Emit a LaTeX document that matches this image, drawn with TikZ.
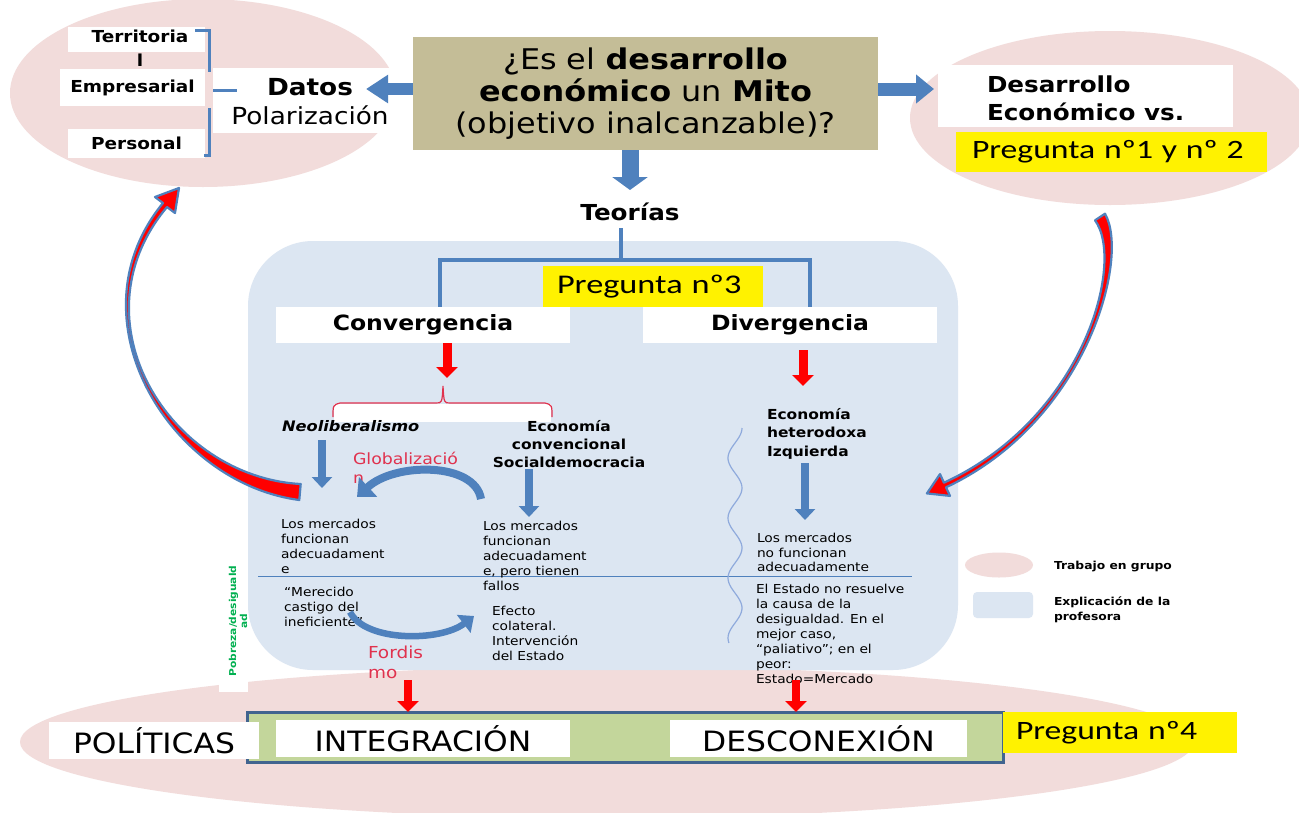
\documentclass[tikz,border=0pt]{standalone}
\usepackage{fontspec}
\setmainfont[FakeStretch=1.12]{DejaVu Sans}
\newfontfamily\pregfont[FakeStretch=1.27]{Carlito}
\usetikzlibrary{arrows.meta}
\definecolor{pinkbg}{HTML}{F2DCDB}
\definecolor{bluebg}{HTML}{DCE6F2}
\definecolor{tanbox}{HTML}{C4BD97}
\definecolor{steel}{HTML}{4F81BD}
\definecolor{bardraw}{HTML}{41648F}
\definecolor{barfill}{HTML}{C3D69B}
\definecolor{redtxt}{HTML}{E0324E}
\definecolor{greentxt}{HTML}{00B050}
\definecolor{wavec}{HTML}{8FAADC}
\newcommand{\setfs}[2]{\fontsize{#1}{#2}\selectfont}
\begin{document}
\begin{tikzpicture}[x=1pt,y=-1pt,
  every node/.style={inner sep=0pt,outer sep=0pt},
  wbox/.style={fill=white},
  ybox/.style={fill=yellow, align=left, font=\pregfont\setfs{26.5}{30}},
  smalltxt/.style={anchor=north west, align=left, font=\setfs{12.3}{15}},
  treeline/.style={steel, line width=3.5pt},
  blueflow/.style={steel, line width=8pt, -{Triangle[length=11pt,width=20pt]}},
  redflow/.style={red, line width=9pt, -{Triangle[length=11pt,width=21pt]}},
  curvy/.style={fill=red, draw=steel, line width=2.2pt, line join=round}
]
\useasboundingbox (0,0) rectangle (1299,812);
\fill[white] (0,0) rectangle (1299,812);
% background shapes
\fill[pinkbg] (203,93) ellipse [x radius=193, y radius=94];
\fill[pinkbg] (1110,118) ellipse [x radius=200, y radius=87];
\fill[pinkbg] (607,742) ellipse [x radius=587, y radius=76];
\fill[bluebg, rounded corners=65pt] (248,241) rectangle (958,670);

% left group
\node[wbox, minimum width=137, minimum height=25] (terr) at (136.5,39.5) {};
\node[anchor=north, align=center, font=\bfseries\setfs{16.5}{24}] (terrt) at (140,30) {Territoria\\l};
\node[wbox, minimum width=145, minimum height=37, font=\bfseries\setfs{16.5}{20}] (emp) at (132.5,87.5) {Empresarial};
\node[wbox, minimum width=137, minimum height=29, font=\bfseries\setfs{16.5}{20}] (pers) at (136.5,143) {Personal};
\node[wbox, minimum width=184, minimum height=65] (datosbox) at (305,100.5) {};
\node[align=center, font=\setfs{23.5}{29}] (datos) at (310,101.5) {\textbf{Datos}\\Polarización};
\draw[steel, line width=3pt] (195,30) -- (209,30) -- (209,72);
\draw[steel, line width=3pt] (209,108) -- (209,155) -- (204,155);
\draw[steel, line width=3pt] (213,90) -- (237,90);

% title
\node[fill=tanbox, minimum width=465, minimum height=113, align=center, font=\setfs{28.5}{32}] (title) at (645.5,93.5) {¿Es el \textbf{desarrollo}\\\textbf{económico} un \textbf{Mito}\\(objetivo inalcanzable)?};
\coordinate (la) at (366,89);
\coordinate (ra) at (934,89);
\coordinate (da) at (630,190);
\draw[steel, line width=12pt, -{Triangle[length=22pt,width=27pt]}] (title.west |- la) -- (la);
\draw[steel, line width=13pt, -{Triangle[length=18pt,width=28pt]}] (title.east |- ra) -- (ra);
\draw[steel, line width=17pt, -{Triangle[length=13pt,width=35pt]}] (da |- title.south) -- (da);

% right group
\node[wbox, minimum width=295, minimum height=62] (desbox) at (1085.5,96) {};
\node[anchor=north west, align=left, font=\bfseries\setfs{22}{28}] (des) at (987,76) {Desarrollo\\Económico vs.};
\node[ybox, minimum height=40, text width=279, inner xsep=16] (p12) at (1111.5,152) {Pregunta nº1 y nº 2};

% theories
\node[font=\bfseries\setfs{22}{26}] (teorias) at (630,212) {Teorías};
\node[wbox, minimum width=294, minimum height=36, font=\bfseries\setfs{21}{25}] (conv) at (423,325) {Convergencia};
\node[wbox, minimum width=294, minimum height=36, font=\bfseries\setfs{21}{25}] (div) at (790,325) {Divergencia};
\node[ybox, font=\pregfont\setfs{27}{30}, minimum height=41, text width=192, inner xsep=14] (p3) at (653,286.5) {Pregunta nº3};
\coordinate (tjtop) at (621,228);
\coordinate (tj) at (621,260);
\coordinate (cl) at (440,260);
\coordinate (cr) at (810,260);
\draw[treeline] (tjtop) -- (tj);
\draw[treeline, line cap=rect] (cl) -- (cr);
\draw[treeline] (cl) -- (cl |- conv.north);
\draw[treeline] (cr) -- (cr |- div.north);

\coordinate (ca) at (447,378);
\draw[redflow] (conv.south -| ca) -- (ca);
\coordinate (dvs) at (803,350);
\coordinate (dva) at (803,386);
\draw[redflow] (dvs) -- (dva);

% brace
\fill[white] (334,404) rectangle (551,422);
\draw[redtxt, line width=1.2pt] (333,417) .. controls (333,405) .. (340,403) -- (436,403) .. controls (442,403) .. (443,386) .. controls (444,403) .. (450,403) -- (545,403) .. controls (552,405) .. (552,417);

% branch labels
\node[anchor=west, font=\bfseries\itshape\setfs{14.5}{18}] (neo) at (282,426) {Neoliberalismo};
\node[align=center, font=\bfseries\setfs{13.8}{18}] (econv) at (569,444) {Economía\\convencional\\Socialdemocracia};
\node[anchor=north west, align=left, font=\bfseries\setfs{13.8}{18.5}] (ehet) at (767,408) {Economía\\heterodoxa\\Izquierda};
\coordinate (n1) at (322,440); \coordinate (n2) at (322,488);
\coordinate (s1) at (529,469); \coordinate (s2) at (529,517);
\coordinate (h1) at (805,463); \coordinate (h2) at (805,520);
\draw[blueflow] (n1) -- (n2);
\draw[blueflow] (s1) -- (s2);
\draw[blueflow] (h1) -- (h2);

\node[anchor=north west, align=left, text=redtxt, font=\setfs{15.5}{19}] (glob) at (353,452) {Globalizació\\n};
\draw[steel, line width=8pt, -{Triangle[length=15pt,width=26pt]}] (481,499) .. controls (475,462) and (395,462) .. (357,497);

\draw[steel, line width=1pt] (258,576) -- (912,576);
\draw[wavec, line width=1.2pt] plot[domain=428:643, samples=90, smooth] ({735+7*cos((\x-428)*6)}, \x);

\node[smalltxt] (lm1) at (281,519) {Los mercados\\funcionan\\adecuadament\\e};
\node[smalltxt] (lm2) at (483,521) {Los mercados\\funcionan\\adecuadament\\e, pero tienen\\fallos};
\node[smalltxt] (mer) at (284,587) {“Merecido\\castigo del\\ineficiente”};
\node[smalltxt] (efe) at (492,606) {Efecto\\colateral.\\Intervención\\del Estado};
\node[smalltxt, font=\setfs{12.3}{14.7}] (lm3) at (757,533) {Los mercados\\no funcionan\\adecuadamente};
\node[smalltxt] (est) at (756,584) {El Estado no resuelve\\la causa de la\\desigualdad. En el\\mejor caso,\\“paliativo”; en el\\peor:\\Estado=Mercado};

\node[anchor=north west, align=left, text=redtxt, font=\setfs{16.5}{20}] (ford) at (368,646) {Fordis\\mo};
\draw[steel, line width=6.5pt, -{Triangle[length=13pt,width=22pt]}] (350,612) .. controls (365,642) and (440,642) .. (474,616);

% vertical green label
\node[wbox, minimum width=29, minimum height=136] (gbox) at (233.5,624) {};
\node[rotate=90, align=center, text=greentxt, font=\bfseries\setfs{9.5}{11}] (gtxt) at (238,621) {Pobreza/desiguald\\ad};

% legend
\fill[pinkbg] (999,565) ellipse [x radius=34, y radius=12.5];
\node[fill=bluebg, minimum width=60, minimum height=26, rounded corners=4pt] (legb) at (1003,605) {};
\node[anchor=west, font=\bfseries\setfs{11}{14}] (legt1) at (1054,566) {Trabajo en grupo};
\node[anchor=north west, align=left, font=\bfseries\setfs{11}{15}] (legt2) at (1054,597) {Explicación de la\\profesora};

% bottom bar
\node[fill=barfill, draw=bardraw, line width=3pt, minimum width=756, minimum height=50] (bar) at (625,737) {};
\node[wbox, minimum width=210, minimum height=37, font=\setfs{28}{32}] (pol) at (154,740.5) {POLÍTICAS};
\node[wbox, minimum width=294, minimum height=37, font=\setfs{28}{32}] (integ) at (423,738.5) {INTEGRACIÓN};
\node[wbox, minimum width=297, minimum height=37, font=\setfs{28}{32}] (descon) at (818.5,738.5) {DESCONEXIÓN};
\node[ybox, minimum height=41, text width=208, inner xsep=13] (p4) at (1120,732.5) {Pregunta nº4};
\coordinate (if) at (408,680);
\coordinate (df) at (796,680);
\draw[redflow, line width=8pt] (if) -- (bar.north -| if);
\draw[redflow, line width=8pt] (df) -- (bar.north -| df);

% curved red arrows
\draw[curvy] (300.7,484) .. controls (170.3,477) and (71.5,321.3) .. (167,207) -- (175,213) -- (179,188) -- (155,197) -- (163,203) .. controls (68.5,318.7) and (169.7,483) .. (299.3,500) -- cycle;
\draw[curvy] (1105,213.7) .. controls (1130.5,258.4) and (1085.8,421.8) .. (946,487.3) -- (950,495.9) -- (926.9,493.4) -- (940,474.1) -- (943.9,482.7) .. controls (1084.2,418.2) and (1125.5,261.6) .. (1095,220.3) -- cycle;
\end{tikzpicture}
\end{document}
